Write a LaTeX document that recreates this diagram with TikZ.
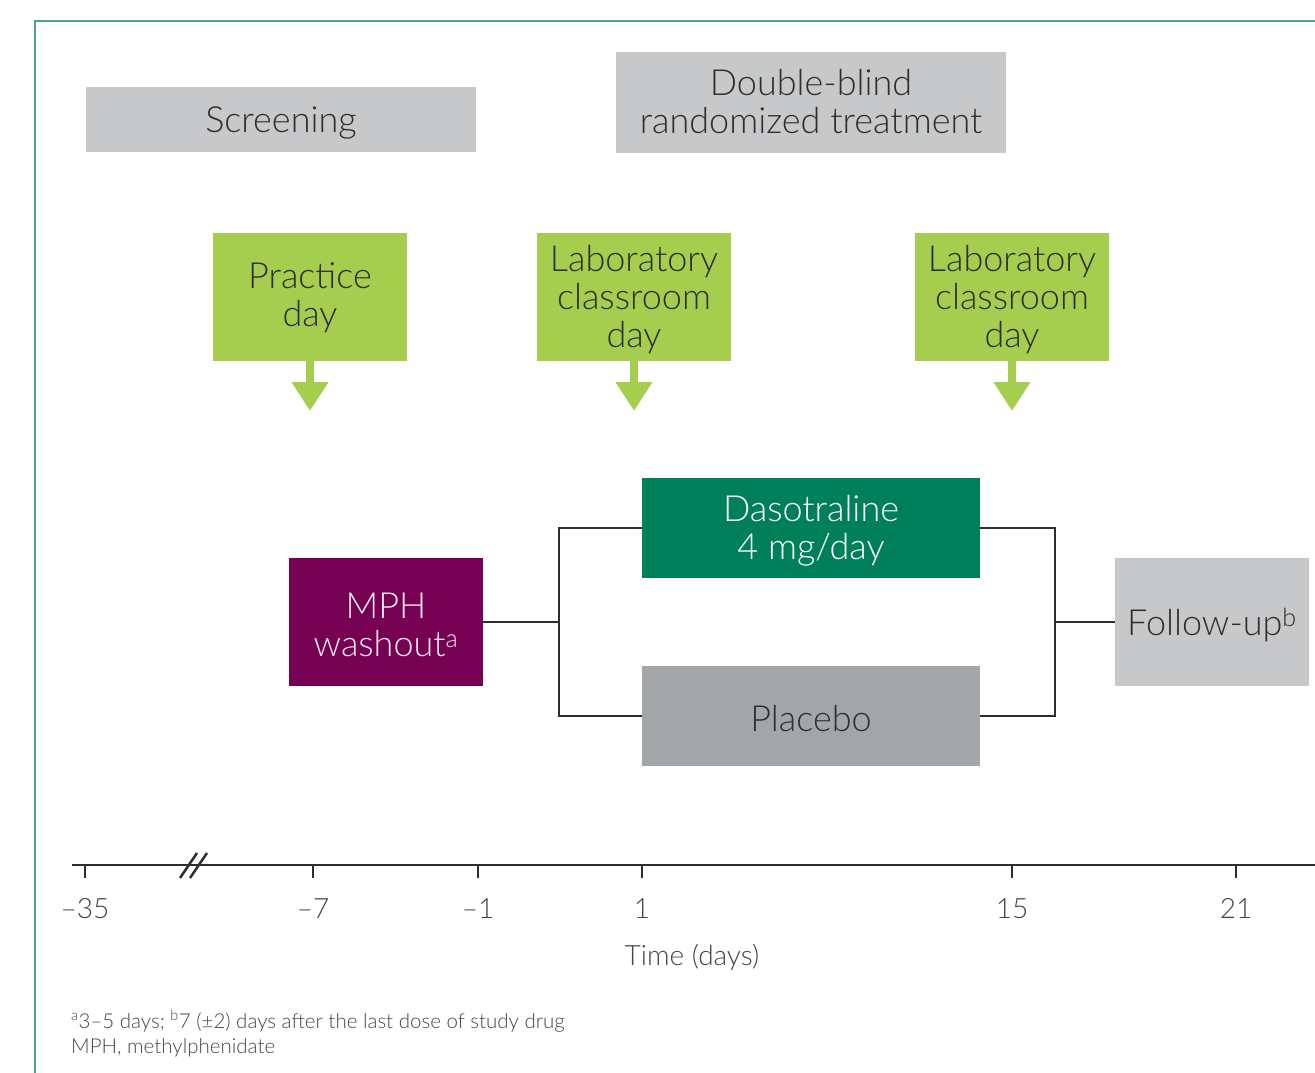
\documentclass[tikz,border=0pt]{standalone}
\usepackage{fontspec}
\setmainfont{Lato}[UprightFont=* Light]
\usetikzlibrary{arrows.meta}
\definecolor{boxgray}{HTML}{C7C8CA}
\definecolor{lime}{HTML}{A5CD4E}
\definecolor{dgreen}{HTML}{00805A}
\definecolor{purp}{HTML}{760052}
\definecolor{plgray}{HTML}{A3A6A9}
\definecolor{txt}{HTML}{2E2E2E}
\definecolor{frame}{HTML}{48A886}
\definecolor{lbl}{HTML}{444444}
\tikzset{
  bx/.style={rectangle, inner sep=0pt},
  btxt/.style={align=center, text=txt, inner sep=0pt, yshift=-3pt,
    font=\fontsize{36}{38}\selectfont},
  conn/.style={draw=txt, line width=2.5pt},
  downarrow/.style={draw=lime, line width=8pt, -{Triangle[width=35pt,length=29pt]}},
  ticklbl/.style={anchor=base, text=lbl, font=\fontsize{28}{30}\selectfont, inner sep=0pt},
}
\begin{document}
\begin{tikzpicture}[x=1pt,y=-1pt]
\useasboundingbox (0,0) rectangle (1315,1073);
% frame
\draw[frame, line width=2pt] (35,1073) -- (35,21) -- (1315,21);
% top boxes
\node[bx, fill=boxgray, minimum width=390pt, minimum height=65pt,
  label={[btxt]center:Screening}] (scr) at (281,119.5) {};
\node[bx, fill=boxgray, minimum width=390pt, minimum height=101pt,
  label={[btxt, yshift=3.5pt]center:Double-blind\\randomized treatment}] (dbl) at (811,102.5) {};
% green boxes
\node[bx, fill=lime, minimum width=194pt, minimum height=128pt,
  label={[btxt, yshift=2.5pt]center:Practice\\day}] (pd) at (310,297) {};
\node[bx, fill=lime, minimum width=194pt, minimum height=128pt,
  label={[btxt]center:Laboratory\\classroom\\day}] (lab1) at (634,297) {};
\node[bx, fill=lime, minimum width=194pt, minimum height=128pt,
  label={[btxt]center:Laboratory\\classroom\\day}] (lab2) at (1012,297) {};
\coordinate (pdt) at (310,411);
\coordinate (l1t) at (634,411);
\coordinate (l2t) at (1012,411);
\draw[downarrow] (pd.south) -- (pdt);
\draw[downarrow] (lab1.south) -- (l1t);
\draw[downarrow] (lab2.south) -- (l2t);
% treatment boxes
\node[bx, fill=dgreen, minimum width=338pt, minimum height=100pt,
  label={[btxt, text=white]center:Dasotraline\\4 mg/day}] (das) at (811,528) {};
\node[bx, fill=plgray, minimum width=338pt, minimum height=100pt,
  label={[btxt]center:Placebo}] (pla) at (811,716) {};
\node[bx, fill=purp, minimum width=194pt, minimum height=128pt,
  label={[btxt, text=white!92!purp]center:MPH\\washout\textsuperscript{a}}] (mph) at (386,622) {};
\node[bx, fill=boxgray, minimum width=194pt, minimum height=128pt,
  label={[btxt]center:Follow-up\textsuperscript{b}}] (fu) at (1212,622) {};
% connectors
\coordinate (j1) at (559,622);
\coordinate (j2) at (1055,622);
\draw[conn] (mph.east) -- (j1);
\draw[conn] (das.west) -| (j1) |- (pla.west);
\draw[conn] (das.east) -| (j2) |- (pla.east);
\draw[conn] (j2) -- (fu.west);
% axis
\coordinate (a0) at (72,865);
\coordinate (a1) at (1315,865);
\draw[conn] (a0) -- (a1);
\foreach \x/\l/\n in {85/{\textendash35}/t1, 313/{\textendash7}/t2, 478/{\textendash1}/t3, 642/1/t4, 1012/15/t5, 1236/21/t6}{
  \coordinate (\n) at (\x,865);
  \draw[conn] (\n) -- ++(0,13);
  \node[ticklbl] at (\x,918) {\l};
}
% axis break
\coordinate (b1) at (180,878);
\coordinate (b2) at (197,853);
\coordinate (b3) at (190,878);
\coordinate (b4) at (207,853);
\draw[conn] (b1) -- (b2);
\draw[conn] (b3) -- (b4);
\node[ticklbl] (tl) at (692,965) {Time (days)};
% footnote
\node[anchor=base west, align=left, inner sep=0pt, text=lbl, font=\fontsize{20.5}{25}\selectfont] (fn) at (71,1053)
  {\textsuperscript{a}3\textendash5 days; \textsuperscript{b}7 (±2) days after the last dose of study drug\\MPH, methylphenidate};
\end{tikzpicture}
\end{document}
